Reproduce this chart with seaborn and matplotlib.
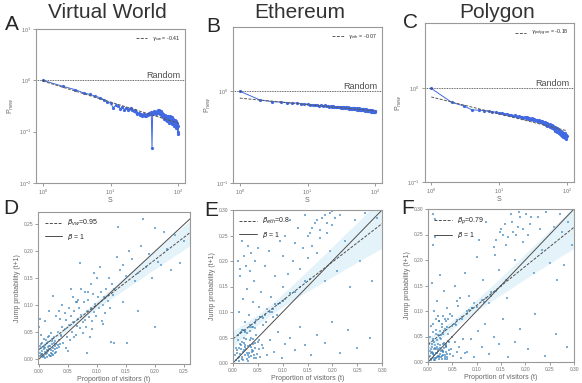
import numpy as np
import matplotlib
matplotlib.use("Agg")
import matplotlib.pyplot as plt
import seaborn as sns

# ---------------- date: panouri de sus (S vs P_new) ----------------
s_vals = list(range(1, 101))

p_vw = [1.00, 0.76, 0.66, 0.57, 0.53, 0.49, 0.46, 0.42, 0.38, 0.36,
        0.29, 0.33, 0.31, 0.28, 0.30, 0.27, 0.29, 0.26, 0.28, 0.29,
        0.27, 0.25, 0.27, 0.24, 0.22, 0.23, 0.21, 0.22, 0.20, 0.21,
        0.22, 0.20, 0.21, 0.20, 0.22, 0.21, 0.23, 0.22, 0.24, 0.23,
        0.047, 0.24, 0.22, 0.25, 0.23, 0.24, 0.22, 0.25, 0.24, 0.26,
        0.23, 0.27, 0.24, 0.22, 0.25, 0.21, 0.23, 0.20, 0.22, 0.19,
        0.20, 0.18, 0.21, 0.19, 0.17, 0.20, 0.18, 0.16, 0.19, 0.17,
        0.20, 0.18, 0.15, 0.19, 0.17, 0.20, 0.16, 0.18, 0.15, 0.19,
        0.17, 0.14, 0.18, 0.16, 0.15, 0.17, 0.13, 0.16, 0.15, 0.17,
        0.14, 0.13, 0.16, 0.12, 0.14, 0.15, 0.12, 0.10, 0.13, 0.09]

p_eth = [1.00, 0.80, 0.77, 0.76, 0.75, 0.74, 0.745, 0.73, 0.72, 0.725,
         0.71, 0.715, 0.70, 0.71, 0.695, 0.70, 0.69, 0.70, 0.685, 0.69,
         0.68, 0.69, 0.675, 0.685, 0.67, 0.68, 0.675, 0.665, 0.68, 0.67,
         0.66, 0.675, 0.665, 0.655, 0.67, 0.66, 0.665, 0.65, 0.665, 0.655,
         0.645, 0.66, 0.65, 0.64, 0.655, 0.645, 0.66, 0.64, 0.65, 0.635,
         0.655, 0.64, 0.65, 0.63, 0.645, 0.635, 0.65, 0.63, 0.64, 0.625,
         0.645, 0.63, 0.64, 0.62, 0.635, 0.625, 0.64, 0.62, 0.635, 0.625,
         0.615, 0.635, 0.62, 0.63, 0.61, 0.625, 0.615, 0.63, 0.61, 0.625,
         0.615, 0.605, 0.625, 0.61, 0.62, 0.60, 0.615, 0.605, 0.62, 0.60,
         0.615, 0.605, 0.595, 0.615, 0.60, 0.61, 0.59, 0.605, 0.595, 0.61]

p_poly = [1.00, 0.71, 0.65, 0.59, 0.585, 0.58, 0.57, 0.565, 0.555, 0.545,
          0.55, 0.53, 0.535, 0.52, 0.525, 0.51, 0.52, 0.505, 0.50, 0.51,
          0.495, 0.50, 0.485, 0.495, 0.48, 0.49, 0.47, 0.485, 0.475, 0.47,
          0.48, 0.46, 0.47, 0.455, 0.465, 0.45, 0.46, 0.445, 0.455, 0.44,
          0.45, 0.435, 0.445, 0.43, 0.44, 0.42, 0.435, 0.415, 0.43, 0.41,
          0.425, 0.40, 0.42, 0.395, 0.41, 0.39, 0.415, 0.385, 0.40, 0.38,
          0.41, 0.375, 0.395, 0.37, 0.39, 0.36, 0.385, 0.355, 0.38, 0.35,
          0.37, 0.345, 0.375, 0.34, 0.365, 0.335, 0.36, 0.33, 0.355, 0.325,
          0.35, 0.32, 0.345, 0.315, 0.34, 0.31, 0.335, 0.305, 0.33, 0.30,
          0.325, 0.31, 0.32, 0.295, 0.33, 0.30, 0.315, 0.29, 0.32, 0.31]

# parametrii fit-ului power-law (prefactor, exponent)
fit_pref = [0.97, 0.84, 0.81]
fit_gamma = [-0.41, -0.07, -0.18]

# ---------------- date: panouri de jos (proportie vs jump prob.) ----------------
d_x = [0.002, 0.004, 0.005, 0.006, 0.008, 0.009, 0.010, 0.011, 0.012, 0.013,
       0.014, 0.015, 0.016, 0.017, 0.018, 0.019, 0.020, 0.021, 0.022, 0.023,
       0.024, 0.025, 0.026, 0.027, 0.028, 0.029, 0.030, 0.003, 0.007, 0.010,
       0.013, 0.016, 0.019, 0.022, 0.025, 0.028, 0.004, 0.008, 0.012, 0.017,
       0.021, 0.026, 0.031, 0.034, 0.036, 0.038, 0.001, 0.002, 0.005, 0.009,
       0.011, 0.014, 0.018, 0.023, 0.027, 0.033, 0.003, 0.006, 0.015, 0.020,
       0.032, 0.035, 0.038, 0.040, 0.042, 0.045, 0.047, 0.049, 0.051, 0.053,
       0.055, 0.057, 0.059, 0.061, 0.063, 0.065, 0.067, 0.069, 0.071, 0.073,
       0.075, 0.077, 0.079, 0.081, 0.083, 0.085, 0.087, 0.089, 0.091, 0.093,
       0.095, 0.097, 0.099, 0.101, 0.104, 0.107, 0.110, 0.113, 0.116, 0.119,
       0.122, 0.125, 0.128, 0.036, 0.044, 0.052, 0.060, 0.068, 0.076, 0.084,
       0.092, 0.100, 0.108, 0.046, 0.058, 0.072, 0.088, 0.034, 0.050, 0.064,
       0.000, 0.002, 0.010, 0.018, 0.024, 0.030, 0.040, 0.055, 0.065, 0.070,
       0.080, 0.090, 0.095, 0.105, 0.112, 0.120, 0.130, 0.135, 0.137, 0.140,
       0.145, 0.150, 0.155, 0.160, 0.165, 0.170, 0.175, 0.180, 0.185, 0.190,
       0.195, 0.200, 0.205, 0.210, 0.215, 0.220, 0.228, 0.235, 0.243, 0.250,
       0.124, 0.130, 0.083, 0.152, 0.200, 0.170, 0.110, 0.145]
d_y = [0.012, 0.008, 0.015, 0.010, 0.018, 0.006, 0.013, 0.020, 0.009, 0.016,
       0.011, 0.022, 0.014, 0.007, 0.019, 0.025, 0.012, 0.017, 0.028, 0.010,
       0.021, 0.015, 0.030, 0.018, 0.024, 0.013, 0.027, 0.020, 0.004, 0.026,
       0.003, 0.031, 0.005, 0.034, 0.008, 0.033, 0.028, 0.022, 0.035, 0.024,
       0.006, 0.040, 0.020, 0.036, 0.028, 0.043, 0.025, 0.005, 0.009, 0.038,
       0.002, 0.029, 0.042, 0.037, 0.012, 0.026, 0.045, 0.030, 0.040, 0.048,
       0.050, 0.022, 0.045, 0.060, 0.030, 0.055, 0.072, 0.041, 0.063, 0.035,
       0.080, 0.050, 0.068, 0.090, 0.045, 0.062, 0.075, 0.095, 0.058, 0.082,
       0.068, 0.105, 0.072, 0.060, 0.090, 0.110, 0.078, 0.095, 0.070, 0.120,
       0.088, 0.102, 0.080, 0.115, 0.095, 0.125, 0.100, 0.085, 0.130, 0.108,
       0.095, 0.140, 0.118, 0.075, 0.085, 0.095, 0.040, 0.110, 0.048, 0.125,
       0.055, 0.150, 0.070, 0.020, 0.115, 0.130, 0.040, 0.090, 0.015, 0.105,
       0.060, 0.075, 0.070, 0.090, 0.117, 0.080, 0.100, 0.130, 0.105, 0.178,
       0.125, 0.140, 0.160, 0.170, 0.115, 0.150, 0.130, 0.190, 0.245, 0.165,
       0.175, 0.155, 0.200, 0.185, 0.145, 0.160, 0.210, 0.260, 0.170, 0.195,
       0.150, 0.243, 0.180, 0.175, 0.235, 0.205, 0.165, 0.230, 0.178, 0.220,
       0.032, 0.030, 0.011, 0.030, 0.060, 0.090, 0.065, 0.105]

e_x = [0.005, 0.008, 0.010, 0.012, 0.014, 0.016, 0.018, 0.020, 0.022, 0.024,
       0.026, 0.028, 0.030, 0.032, 0.034, 0.036, 0.038, 0.040, 0.042, 0.045,
       0.048, 0.050, 0.006, 0.009, 0.013, 0.017, 0.021, 0.025, 0.029, 0.033,
       0.037, 0.041, 0.046, 0.011, 0.015, 0.019, 0.023, 0.027, 0.031, 0.035,
       0.039, 0.044, 0.007, 0.012, 0.018, 0.024, 0.030, 0.036, 0.043, 0.052,
       0.055, 0.058, 0.010, 0.016, 0.022, 0.028, 0.034, 0.040, 0.047, 0.053,
       0.012, 0.015, 0.018, 0.020, 0.022, 0.025, 0.028, 0.030, 0.032, 0.035,
       0.038, 0.040, 0.043, 0.046, 0.050, 0.053, 0.056, 0.060, 0.064, 0.068,
       0.072, 0.076, 0.080, 0.085, 0.090, 0.095, 0.100, 0.024, 0.034, 0.044,
       0.054, 0.066, 0.078, 0.088, 0.014, 0.010, 0.018, 0.026, 0.036, 0.045,
       0.015, 0.025, 0.035, 0.045, 0.055, 0.065, 0.075, 0.085, 0.095, 0.105,
       0.115, 0.125, 0.135, 0.145, 0.155, 0.020, 0.040, 0.060, 0.080, 0.100,
       0.060, 0.068, 0.075, 0.082, 0.090, 0.098, 0.105, 0.115, 0.125, 0.135,
       0.145, 0.158, 0.170, 0.185, 0.200, 0.215, 0.232, 0.250, 0.275,
       0.100, 0.105, 0.110, 0.115, 0.120, 0.125, 0.130, 0.135, 0.140, 0.145,
       0.150, 0.155, 0.160, 0.165, 0.170, 0.175, 0.180, 0.185, 0.190, 0.195,
       0.200, 0.210, 0.215, 0.225, 0.235, 0.245, 0.255, 0.265, 0.280, 0.290,
       0.160, 0.170, 0.175, 0.185, 0.190, 0.195, 0.205, 0.150, 0.200]
e_y = [0.015, 0.025, 0.010, 0.030, 0.018, 0.035, 0.012, 0.022, 0.040, 0.016,
       0.028, 0.008, 0.033, 0.020, 0.045, 0.014, 0.026, 0.038, 0.010, 0.030,
       0.018, 0.042, 0.005, 0.020, 0.012, 0.027, 0.006, 0.036, 0.019, 0.011,
       0.031, 0.024, 0.009, 0.045, 0.038, 0.008, 0.026, 0.048, 0.015, 0.035,
       0.022, 0.040, 0.030, 0.003, 0.042, 0.032, 0.004, 0.050, 0.016, 0.028,
       0.012, 0.036, 0.055, 0.060, 0.050, 0.058, 0.062, 0.048, 0.055, 0.045,
       0.100, 0.170, 0.065, 0.125, 0.210, 0.080, 0.145, 0.230, 0.095, 0.180,
       0.070, 0.120, 0.160, 0.085, 0.225, 0.110, 0.140, 0.075, 0.190, 0.105,
       0.220, 0.130, 0.090, 0.170, 0.115, 0.240, 0.150, 0.060, 0.070, 0.068,
       0.090, 0.080, 0.100, 0.095, 0.185, 0.200, 0.240, 0.190, 0.215, 0.200,
       0.058, 0.062, 0.075, 0.078, 0.090, 0.095, 0.100, 0.115, 0.118, 0.125,
       0.138, 0.140, 0.150, 0.160, 0.165, 0.065, 0.070, 0.088, 0.105, 0.122,
       0.030, 0.015, 0.045, 0.022, 0.060, 0.010, 0.038, 0.050, 0.025, 0.070,
       0.035, 0.015, 0.055, 0.040, 0.080, 0.020, 0.065, 0.030, 0.050,
       0.210, 0.250, 0.175, 0.280, 0.200, 0.235, 0.265, 0.185, 0.225, 0.290,
       0.205, 0.255, 0.230, 0.275, 0.215, 0.245, 0.285, 0.160, 0.255, 0.220,
       0.270, 0.180, 0.290, 0.240, 0.150, 0.280, 0.200, 0.295, 0.160, 0.285,
       0.265, 0.280, 0.260, 0.290, 0.275, 0.295, 0.285, 0.250, 0.298]

f_x = [0.003, 0.005, 0.007, 0.009, 0.011, 0.013, 0.015, 0.017, 0.019, 0.021,
       0.023, 0.025, 0.027, 0.029, 0.031, 0.033, 0.035, 0.037, 0.039, 0.041,
       0.043, 0.045, 0.004, 0.008, 0.012, 0.016, 0.020, 0.024, 0.028, 0.032,
       0.036, 0.040, 0.044, 0.006, 0.010, 0.014, 0.018, 0.022, 0.026, 0.030,
       0.034, 0.038, 0.048, 0.052, 0.056, 0.060, 0.064, 0.068, 0.072, 0.076,
       0.002, 0.006, 0.011, 0.017, 0.023, 0.029, 0.035, 0.042, 0.050, 0.058,
       0.005, 0.007, 0.009, 0.010, 0.012, 0.013, 0.015, 0.016, 0.018, 0.019,
       0.021, 0.022, 0.024, 0.025, 0.027, 0.028, 0.030, 0.032, 0.034, 0.036,
       0.038, 0.040, 0.006, 0.011, 0.014, 0.017, 0.020, 0.026, 0.031, 0.035,
       0.008, 0.010, 0.012, 0.014, 0.016, 0.018, 0.020, 0.024, 0.028, 0.032,
       0.036, 0.040, 0.045, 0.050, 0.055, 0.060, 0.065, 0.070, 0.075, 0.080,
       0.085, 0.090, 0.095, 0.100, 0.011, 0.015, 0.022, 0.030, 0.042, 0.062,
       0.010, 0.020, 0.030, 0.040, 0.050, 0.060, 0.070, 0.080, 0.090, 0.100,
       0.110, 0.120, 0.130, 0.140, 0.150, 0.160, 0.025, 0.055, 0.085, 0.115,
       0.080, 0.088, 0.095, 0.102, 0.110, 0.118, 0.126, 0.135, 0.145, 0.155,
       0.165, 0.178, 0.190, 0.205, 0.220, 0.240, 0.262, 0.285,
       0.105, 0.112, 0.120, 0.130, 0.138, 0.145, 0.155, 0.162, 0.170, 0.178,
       0.185, 0.195, 0.202, 0.210, 0.218, 0.225, 0.235, 0.242, 0.250, 0.258,
       0.265, 0.272, 0.280, 0.288, 0.295, 0.125, 0.150, 0.190, 0.230, 0.275,
       0.160, 0.175, 0.205, 0.140, 0.148, 0.158, 0.165, 0.172, 0.180, 0.188,
       0.196, 0.212, 0.135]
f_y = [0.010, 0.022, 0.005, 0.030, 0.015, 0.040, 0.008, 0.025, 0.018, 0.035,
       0.012, 0.028, 0.045, 0.006, 0.020, 0.038, 0.014, 0.030, 0.010, 0.042,
       0.024, 0.016, 0.050, 0.036, 0.004, 0.055, 0.026, 0.048, 0.012, 0.060,
       0.032, 0.006, 0.040, 0.018, 0.058, 0.028, 0.044, 0.009, 0.052, 0.022,
       0.065, 0.036, 0.025, 0.012, 0.040, 0.020, 0.030, 0.008, 0.045, 0.018,
       0.035, 0.070, 0.075, 0.062, 0.080, 0.068, 0.085, 0.055, 0.050, 0.072,
       0.012, 0.004, 0.020, 0.008, 0.026, 0.014, 0.003, 0.018, 0.030, 0.010,
       0.022, 0.006, 0.016, 0.034, 0.009, 0.024, 0.013, 0.028, 0.005, 0.020,
       0.032, 0.015, 0.026, 0.017, 0.033, 0.007, 0.011, 0.021, 0.035, 0.009,
       0.155, 0.230, 0.100, 0.280, 0.085, 0.120, 0.090, 0.170, 0.075, 0.140,
       0.080, 0.105, 0.095, 0.090, 0.150, 0.120, 0.125, 0.085, 0.175, 0.100,
       0.130, 0.105, 0.115, 0.205, 0.290, 0.245, 0.080, 0.090, 0.085, 0.110,
       0.045, 0.052, 0.055, 0.068, 0.070, 0.082, 0.088, 0.095, 0.105, 0.108,
       0.122, 0.125, 0.138, 0.140, 0.150, 0.160, 0.060, 0.075, 0.102, 0.118,
       0.020, 0.045, 0.010, 0.060, 0.030, 0.075, 0.015, 0.050, 0.035, 0.085,
       0.010, 0.040, 0.065, 0.025, 0.095, 0.012, 0.055, 0.030,
       0.240, 0.160, 0.275, 0.130, 0.210, 0.180, 0.250, 0.125, 0.290, 0.200,
       0.265, 0.235, 0.290, 0.270, 0.175, 0.285, 0.220, 0.295, 0.195, 0.265,
       0.160, 0.290, 0.190, 0.275, 0.230, 0.115, 0.260, 0.285, 0.260, 0.255,
       0.230, 0.255, 0.250, 0.240, 0.255, 0.270, 0.245, 0.275, 0.250, 0.295,
       0.260, 0.285, 0.225]

titles = ['Virtual World', 'Ethereum', 'Polygon']
letters_top = ['A', 'B', 'C']
letters_bot = ['D', 'E', 'F']
gamma_labels = [r'$\gamma_{vw}$ = -0.41', r'$\gamma_{eth}$ = -0.07',
                r'$\gamma_{polygon}$ = -0.18']
beta_labels = [r'$\beta_{vw}$=0.95', r'$\beta_{eth}$=0.8', r'$\beta_{p}$=0.79']

# ---------------- stil ----------------
sns.set_style('white')
plt.rcParams['font.family'] = ['Liberation Sans', 'DejaVu Sans']
plt.rcParams['mathtext.fontset'] = 'dejavusans'

fig = plt.figure(figsize=(5.82, 3.83), dpi=100)
W, H = 582.0, 383.0

def box(x0, y0, x1, y1):
    # coordonate pixel -> fractii figura
    return [x0 / W, 1 - y1 / H, (x1 - x0) / W, (y1 - y0) / H]

def style_axes(ax, fs=4):
    for sp in ax.spines.values():
        sp.set_color('0.6')
        sp.set_linewidth(0.8)
    ax.tick_params(labelsize=fs, colors='0.45', length=2, width=0.5,
                   bottom=True, left=True, pad=1.5)

top_boxes = [box(36, 29, 185, 183), box(233, 27, 382, 183), box(424.5, 23, 573.5, 182)]
top_ylims = [(0.01, 10), (0.1, 5), (0.1, 5)]
top_series = [p_vw, p_eth, p_poly]
title_x = [107, 300, 497]
letter_top_pos = [(12, 25), (213, 26), (410, 23)]

blue = '#4169E1'

for i in range(3):
    ax = fig.add_axes(top_boxes[i])
    sns.lineplot(x=s_vals, y=top_series[i], ax=ax, color=blue, lw=0.7,
                 marker='o', markersize=2.3, markeredgewidth=0)
    s_arr = np.array(s_vals, dtype=float)
    ax.plot(s_arr, fit_pref[i] * s_arr ** fit_gamma[i], ls='--', color='0.35',
            lw=0.7, dashes=(3, 1.5), label=gamma_labels[i])
    ax.axhline(1.0, color='0.2', ls=(0, (1, 1)), lw=0.6)
    ax.set_xscale('log')
    ax.set_yscale('log')
    ax.set_ylim(*top_ylims[i])
    ax.minorticks_off()
    ax.text(0.97, 1.0, 'Random', transform=ax.get_yaxis_transform(),
            ha='right', va='bottom', fontsize=6.5, color='0.3')
    ax.set_xlabel('S', fontsize=5, color='0.4', labelpad=0)
    ax.set_ylabel(r'P$_{new}$', fontsize=5, color='0.4', labelpad=2)
    style_axes(ax, 4)
    ax.legend(loc='upper right', frameon=False, fontsize=3.8, handlelength=2.2,
              borderaxespad=0.6)
    fig.text(title_x[i] / W, 1 - 13 / H, titles[i], fontsize=15, color='0.2',
             ha='center', va='center')
    lx, ly = letter_top_pos[i]
    fig.text(lx / W, 1 - ly / H, letters_top[i], fontsize=15, color='0.15',
             ha='center', va='center')

bot_boxes = [box(38.3, 211.7, 190, 364), box(233, 210, 382, 363), box(428, 209, 574, 362)]
bot_xlims = [(-0.0012, 0.2603), (0, 0.30), (0, 0.30)]
bot_ylims = [(-0.0093, 0.2736), (0, 0.30), (0, 0.30)]
bot_ticks = [np.arange(0, 0.26, 0.05), np.arange(0, 0.31, 0.05), np.arange(0, 0.31, 0.05)]
bot_x = [d_x, e_x, f_x]
bot_y = [d_y, e_y, f_y]
letter_bot_pos = [(11, 208), (211, 211), (408, 209)]

for i in range(3):
    ax = fig.add_axes(bot_boxes[i])
    ax.set_xlim(*bot_xlims[i])
    ax.set_ylim(*bot_ylims[i])
    sns.scatterplot(x=bot_x[i], y=bot_y[i], ax=ax, marker='s', s=3,
                    color='#2677b6', alpha=0.6, linewidth=0)
    sns.regplot(x=bot_x[i], y=bot_y[i], ax=ax, scatter=False, truncate=False,
                color='#4aa8d8', seed=3, label=beta_labels[i],
                line_kws=dict(lw=0.7, ls='--', dashes=(3, 1.5)))
    ax.lines[-1].set_color('0.3')
    lim = bot_xlims[i]
    ax.plot(lim, lim, color='0.3', lw=0.7, label=r'$\beta$ = 1')
    ax.set_xlim(*bot_xlims[i])
    ax.set_ylim(*bot_ylims[i])
    ax.set_xticks(bot_ticks[i])
    ax.set_yticks(bot_ticks[i])
    ax.xaxis.set_major_formatter(matplotlib.ticker.FormatStrFormatter('%.2f'))
    ax.yaxis.set_major_formatter(matplotlib.ticker.FormatStrFormatter('%.2f'))
    ax.set_xlabel('Proportion of visitors (t)', fontsize=5, color='0.4', labelpad=1.5)
    ax.set_ylabel('Jump probability (t+1)', fontsize=5, color='0.4', labelpad=2)
    style_axes(ax, 3.5)
    handles, labels = ax.get_legend_handles_labels()
    ax.legend(handles[-2:], labels[-2:], loc='upper left', frameon=False,
              fontsize=5, handlelength=2.5, borderaxespad=0.5)
    lx, ly = letter_bot_pos[i]
    fig.text(lx / W, 1 - ly / H, letters_bot[i], fontsize=15, color='0.15',
             ha='center', va='center')

fig.savefig('out.png', dpi=100)
